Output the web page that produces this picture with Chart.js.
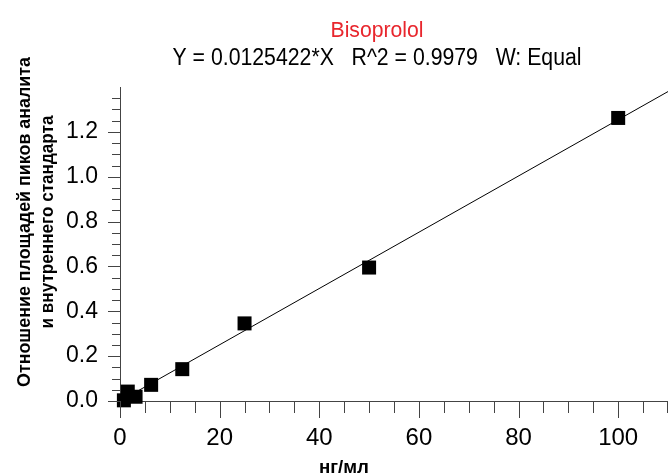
<!DOCTYPE html>
<html>
<head>
<meta charset="utf-8">
<script src="https://cdn.jsdelivr.net/npm/chart.js@4.4.1/dist/chart.umd.min.js"></script>
<style>
  html, body { margin: 0; padding: 0; background: #fff; }
</style>
</head>
<body>
<canvas id="calibChart" width="668" height="474"></canvas>
<script>
// calibration standards, ng/ml vs area ratio
const conc = [0.78, 1.56, 3.125, 6.25, 12.5, 25, 50, 100]
const ratio = [0.003, 0.042, 0.019, 0.072, 0.142, 0.346, 0.595, 1.262]

// regression line Y = 0.0125422*X drawn over the axis range
const fitX = [0, 110]
const fitY = [0, 1.3796]

const xLabels = [0, 20, 40, 60, 80, 100]
const yLabels = [0.0, 0.2, 0.4, 0.6, 0.8, 1.0, 1.2]

const titleText = 'Bisoprolol'
const eqText = 'Y = 0.0125422*X   R^2 = 0.9979   W: Equal'
const xTitle = 'нг/мл'
const yTitle = ['Отношение площадей пиков аналита', 'и внутреннего стандарта']

const sans = '"Liberation Sans", Arial, sans-serif'

const isMajorY = v => Math.abs(v * 5 - Math.round(v * 5)) < 1e-6

// squeeze text horizontally to a given width (original uses a narrow face)
const fitText = (ctx, text, x, y, width) => {
  const w = ctx.measureText(text).width
  ctx.save()
  ctx.translate(x, y)
  ctx.scale(width / w, 1)
  ctx.fillText(text, 0, 0)
  ctx.restore()
}

// major / minor tick marks, Chart.js only has one tick length per axis
const tickMarks = {
  id: 'tickMarks',
  afterDraw(chart) {
    const { ctx, scales: { x, y } } = chart
    ctx.save()
    ctx.strokeStyle = '#444'
    ctx.lineWidth = 1
    ctx.beginPath()
    x.ticks.forEach(t => {
      const px = Math.min(Math.round(x.getPixelForValue(t.value)), chart.width - 1) + 0.5
      const len = xLabels.includes(t.value) ? 17 : 12
      ctx.moveTo(px, x.top)
      ctx.lineTo(px, x.top + len)
    })
    y.ticks.forEach(t => {
      if (t.value > 1.39) return
      const py = Math.round(y.getPixelForValue(t.value)) + 0.5
      const len = isMajorY(t.value) ? 12 : 8
      ctx.moveTo(y.right, py)
      ctx.lineTo(y.right - len, py)
    })
    ctx.stroke()
    ctx.restore()
  }
}

const titles = {
  id: 'titles',
  afterDraw(chart) {
    const { ctx } = chart
    ctx.save()
    ctx.textAlign = 'center'
    ctx.textBaseline = 'alphabetic'

    ctx.fillStyle = '#e8262d'
    ctx.font = '22px ' + sans
    fitText(ctx, titleText, 377, 37, 93)

    ctx.fillStyle = '#000'
    ctx.font = '23px ' + sans
    fitText(ctx, eqText, 377, 65, 409)

    ctx.font = 'bold 19px ' + sans
    fitText(ctx, xTitle, 344, 473, 50)

    ctx.translate(0, 222)
    ctx.rotate(-Math.PI / 2)
    fitText(ctx, yTitle[0], 0, 30, 330)
    fitText(ctx, yTitle[1], 0, 53, 213)
    ctx.restore()
  }
}

const config = {
  type: 'scatter',
  data: {
    datasets: [
      {
        data: conc.map((c, i) => ({ x: c, y: ratio[i] })),
        backgroundColor: '#000',
        borderWidth: 0,
        pointStyle: 'rect',
        pointRadius: 9.9,
        clip: false,
        order: 1
      },
      {
        data: fitX.map((c, i) => ({ x: c, y: fitY[i] })),
        showLine: true,
        borderColor: '#000',
        borderWidth: 1,
        pointRadius: 0,
        order: 2
      }
    ]
  },
  options: {
    responsive: false,
    animation: false,
    devicePixelRatio: 1,
    layout: {
      autoPadding: false,
      padding: { top: 87, left: 0, right: 0, bottom: 0 }
    },
    plugins: {
      legend: { display: false },
      tooltip: { enabled: false }
    },
    scales: {
      x: {
        type: 'linear',
        min: 0,
        max: 110,
        grid: { display: false },
        border: { display: true, color: '#444', width: 1 },
        ticks: {
          stepSize: 5,
          autoSkip: false,
          maxRotation: 0,
          padding: 15,
          color: '#000',
          font: { size: 24, family: sans },
          callback: v => xLabels.includes(v) ? String(v) : ''
        },
        afterFit: s => {
          s.height = 73
          s.paddingLeft = 0
          s.paddingRight = 0
        }
      },
      y: {
        min: 0,
        max: 1.4,
        grid: { display: false },
        border: { display: true, color: '#444', width: 1 },
        ticks: {
          stepSize: 0.05,
          autoSkip: false,
          padding: 14,
          color: '#000',
          font: { size: 23, family: sans },
          callback: v => (isMajorY(v) && v < 1.3) ? v.toFixed(1) : ''
        },
        afterFit: s => {
          s.width = 120
          s.paddingTop = 0
          s.paddingBottom = 0
        }
      }
    }
  },
  plugins: [tickMarks, titles]
}

const calibChart = new Chart(document.getElementById('calibChart'), config)
</script>
</body>
</html>
